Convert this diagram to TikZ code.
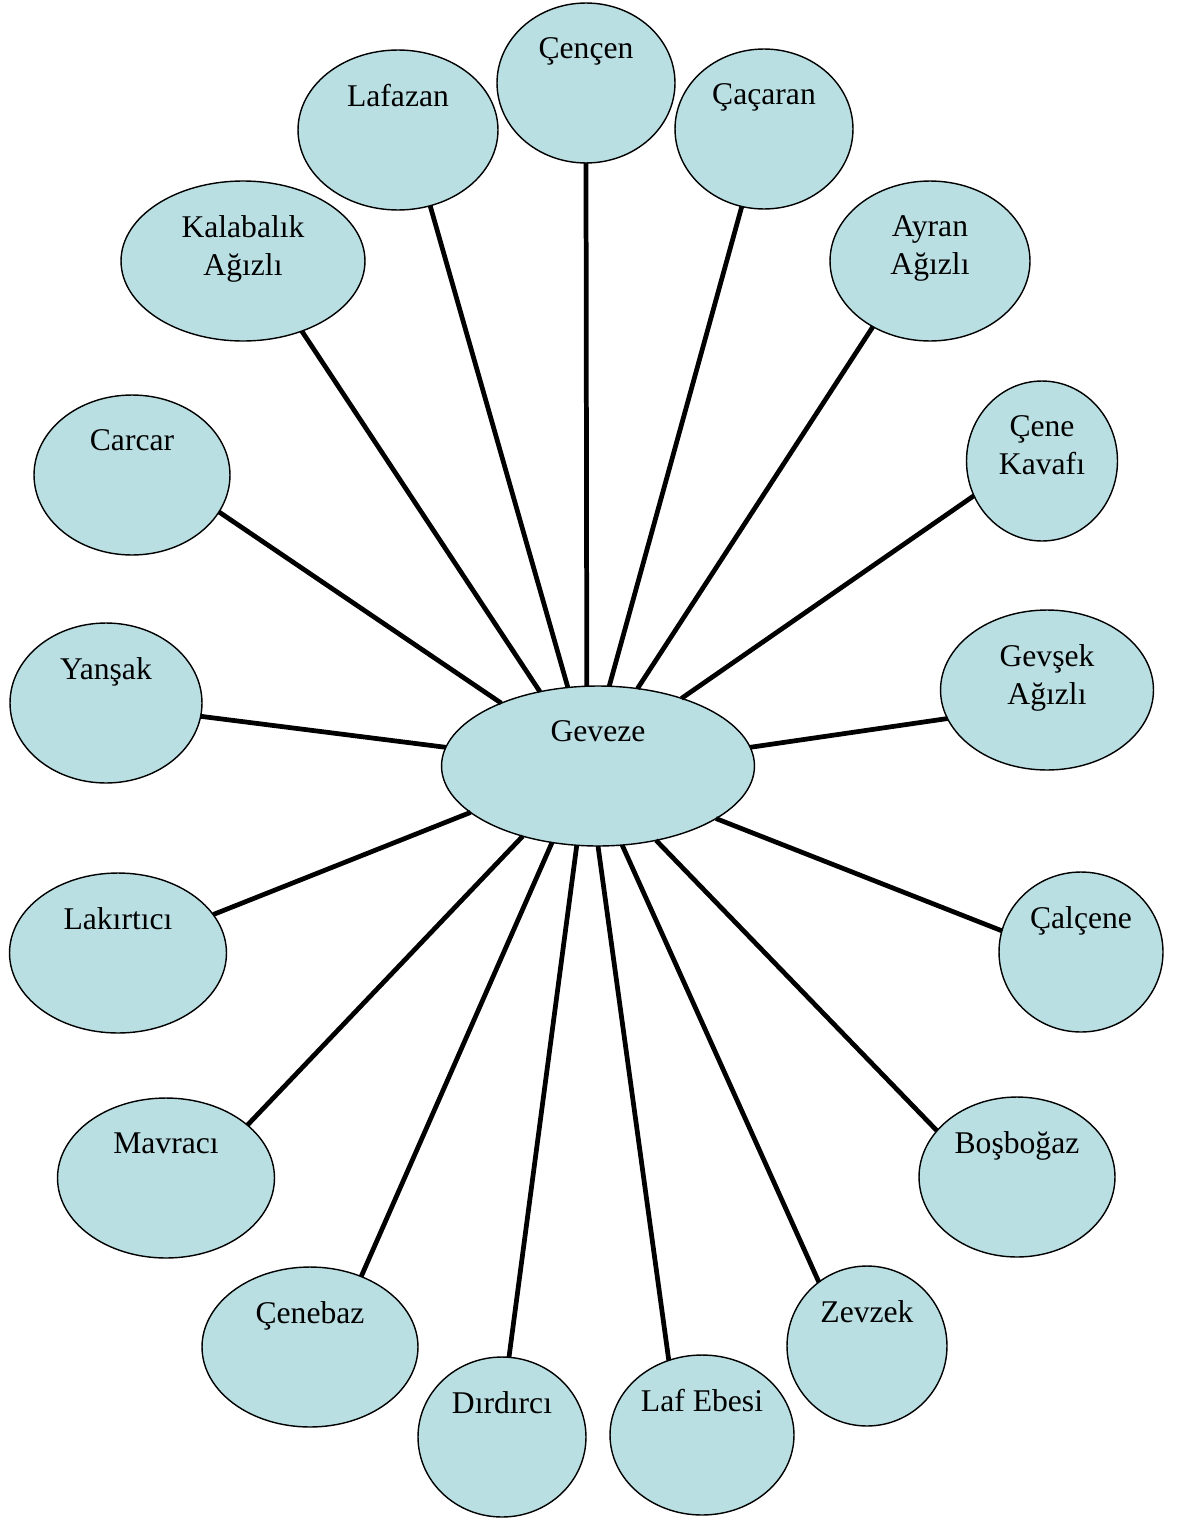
\documentclass[tikz,border=0pt]{standalone}
\usepackage{fontspec}
\setmainfont{Liberation Serif}
\usepackage{xcolor}
\usepackage{tikz}
\usetikzlibrary{shapes.geometric}

\definecolor{bubbleblue}{HTML}{B9DFE3}

\begin{document}
\begin{tikzpicture}[
    x=0.02cm, y=-0.02cm,
    bubble/.style={ellipse, draw=black, fill=bubbleblue, line width=0.8pt, minimum height=3.2cm, inner sep=0pt, outer sep=0pt},
    tag/.style={anchor=north, inner sep=0pt, yshift=-0.68cm, align=center, font=\fontsize{18}{21.5}\selectfont},
    link/.style={line width=2.7pt, draw=black}
]
\useasboundingbox (0,0) rectangle (1182,1521);

% Bubbles
\node (geveze) [bubble, minimum width=6.26cm] at (598,766) {};
\node (cencen) [bubble, minimum width=3.56cm] at (586,83) {};
\node (lafazan) [bubble, minimum width=4.0cm] at (398,130) {};
\node (cacaran) [bubble, minimum width=3.56cm] at (764,129) {};
\node (kalabalik) [bubble, minimum width=4.88cm] at (243,261) {};
\node (ayran) [bubble, minimum width=4.0cm] at (930,261) {};
\node (carcar) [bubble, minimum width=3.92cm] at (132,475) {};
\node (kavafi) [bubble, minimum width=3.02cm] at (1042,461) {};
\node (yansak) [bubble, minimum width=3.84cm] at (106,703) {};
\node (gevsek) [bubble, minimum width=4.26cm] at (1047,690) {};
\node (lakirtici) [bubble, minimum width=4.34cm] at (118,953) {};
\node (calcene) [bubble, minimum width=3.28cm] at (1081,952) {};
\node (mavraci) [bubble, minimum width=4.34cm] at (166,1178) {};
\node (bosbogaz) [bubble, minimum width=3.92cm] at (1017,1177) {};
\node (cenebaz) [bubble, minimum width=4.32cm] at (310,1347) {};
\node (zevzek) [bubble, minimum width=3.2cm] at (867,1346) {};
\node (dirdirci) [bubble, minimum width=3.36cm] at (502,1437) {};
\node (lafebesi) [bubble, minimum width=3.68cm] at (702,1435) {};

% Texts
\node (gevezeT) [tag] at (geveze.north) {Geveze};
\node (cencenT) [tag] at (cencen.north) {Çençen};
\node (lafazanT) [tag] at (lafazan.north) {Lafazan};
\node (cacaranT) [tag] at (cacaran.north) {Çaçaran};
\node (kalabalikT) [tag] at (kalabalik.north) {Kalabalık\\Ağızlı};
\node (ayranT) [tag] at (ayran.north) {Ayran\\Ağızlı};
\node (carcarT) [tag] at (carcar.north) {Carcar};
\node (kavafiT) [tag] at (kavafi.north) {Çene\\Kavafı};
\node (yansakT) [tag] at (yansak.north) {Yanşak};
\node (gevsekT) [tag] at (gevsek.north) {Gevşek\\Ağızlı};
\node (lakirticiT) [tag] at (lakirtici.north) {Lakırtıcı};
\node (calceneT) [tag] at (calcene.north) {Çalçene};
\node (mavraciT) [tag] at (mavraci.north) {Mavracı};
\node (bosbogazT) [tag] at (bosbogaz.north) {Boşboğaz};
\node (cenebazT) [tag] at (cenebaz.north) {Çenebaz};
\node (zevzekT) [tag] at (zevzek.north) {Zevzek};
\node (dirdirciT) [tag] at (dirdirci.north) {Dırdırcı};
\node (lafebesiT) [tag] at (lafebesi.north) {Laf Ebesi};

% Spokes
\draw [link] (geveze.98.5) -- (cencen.270);
\draw [link] (geveze.111.7) -- (lafazan.293.7);
\draw [link] (geveze.82.7) -- (cacaran.254.4);
\draw [link] (geveze.128.1) -- (kalabalik.310.3);
\draw [link] (geveze.63.4) -- (ayran.229.2);
\draw [link] (geveze.147.9) -- (carcar.337.2);
\draw [link] (geveze.39.1) -- (kavafi.207.6);
\draw [link] (geveze.173.2) -- (yansak.352.3);
\draw [link] (geveze.7.9) -- (gevsek.196.2);
\draw [link] (geveze.200.3) -- (lakirtici.22.6);
\draw [link] (geveze.336.2) -- (calcene.165.8);
\draw [link] (geveze.223.1) -- (mavraci.33.2);
\draw [link] (geveze.308.7) -- (bosbogaz.150.1);
\draw [link] (geveze.239.8) -- (cenebaz.54.8);
\draw [link] (geveze.287.6) -- (zevzek.127.4);
\draw [link] (geveze.255.5) -- (dirdirci.85.7);
\draw [link] (geveze.270) -- (lafebesi.114.8);

\end{tikzpicture}
\end{document}
